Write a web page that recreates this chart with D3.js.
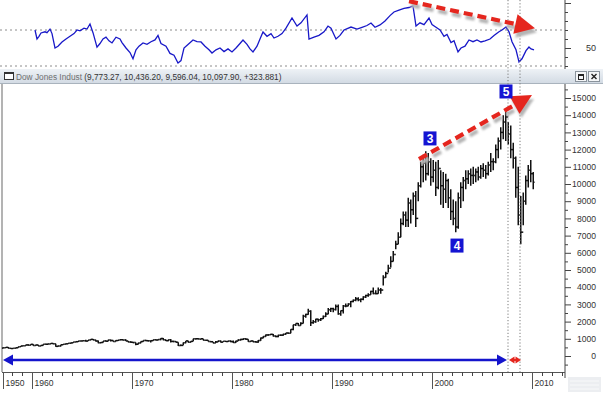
<!DOCTYPE html>
<html>
<head>
<meta charset="utf-8">
<script src="https://cdn.jsdelivr.net/npm/d3@7"></script>
<style>
  body { margin: 0; background: #fff; }
  svg { display: block; font-family: "Liberation Sans", Arial, sans-serif; }
</style>
</head>
<body>
<svg id="chart" width="603" height="393"></svg>
<script>
// quarterly bars, first one is 1957 Q1 (one row per year)
const startYear = 1957;
const highs = [
  500, 513, 521, 465,   450, 478, 532, 584,   603, 650, 679, 680,
  685, 656, 656, 616,   677, 705, 726, 735,   726, 706, 617, 653,
  685, 727, 745, 767,   820, 830, 875, 891,   910, 940, 932, 969,
  995, 950, 894, 820,   865, 910, 943, 943,   908, 920, 924, 985,
  952, 968, 873, 863,   811, 792, 773, 842,   904, 950, 920, 890,
  950, 971, 973, 1036,  1051, 963, 947, 987,  891, 869, 800, 674,
  786, 878, 881, 860,   1009, 1011, 1026, 980, 999, 936, 912, 856,
  817, 866, 907, 901,   862, 875, 893, 904,   903, 888, 967, 1000,
  1015, 1031, 976, 892, 882, 869, 934, 1070,  1145, 1248, 1260, 1287,
  1286, 1186, 1240, 1244, 1300, 1340, 1372, 1553, 1822, 1893, 1920, 1956,
  2405, 2450, 2746, 2662, 2100, 2160, 2160, 2210, 2350, 2550, 2790, 2810,
  2810, 3000, 3000, 2650, 2960, 3050, 3060, 3200, 3290, 3430, 3410, 3350,
  3480, 3560, 3650, 3800, 3980, 3820, 3980, 3960, 4700, 4900, 5300, 5800,
  6100, 6700, 7200, 8000, 8400, 8400, 9200, 9100, 9500, 9600, 10100, 11300,
  11700, 11900, 11800, 11500, 11400, 11300, 11400, 10800, 10700, 10600, 10300, 9700,
  9100, 9000, 9500, 10100, 10400, 10800, 10800, 10900, 11000, 10900, 11000, 11100,
  11200, 11100, 11300, 11800, 11500, 12300, 12700, 13300, 14000, 14400, 13600, 13400,
  12400, 11600, 11000, 9300, 9500, 10500, 11100, 11400, 10700
];
const lows = [
  454, 471, 456, 416,   436, 440, 476, 530,   575, 600, 616, 630,
  599, 600, 580, 566,   610, 675, 678, 700,   689, 535, 557, 558,
  646, 682, 695, 711,   766, 800, 820, 857,   869, 840, 868, 920,
  911, 847, 744, 744,   786, 848, 860, 850,   825, 840, 870, 925,
  899, 870, 801, 770,   744, 631, 669, 745,   830, 873, 839, 790,
  889, 910, 910, 921,   922, 869, 851, 788,   803, 795, 584, 577,
  632, 739, 784, 784,   858, 958, 970, 924,   919, 898, 839, 800,
  742, 750, 810, 792,   807, 821, 832, 796,   759, 759, 865, 908,
  931, 950, 824, 835,   795, 788, 776, 890,   1027, 1113, 1175, 1215,
  1134, 1086, 1086, 1160, 1184, 1240, 1300, 1320, 1502, 1738, 1758, 1774,
  1895, 2220, 2400, 1738, 1880, 1930, 1990, 2030, 2144, 2270, 2430, 2560,
  2540, 2640, 2400, 2340, 2470, 2830, 2890, 2830, 3130, 3180, 3190, 3130,
  3240, 3370, 3450, 3560, 3590, 3590, 3620, 3620, 4100, 4550, 4850, 5150,
  5500, 6200, 6500, 6900, 7600, 7500, 7500, 7700, 8200, 7500, 9000, 9800,
  10100, 10200, 10500, 9900, 10100, 9300, 9700, 8800, 8600, 8900, 8600, 7900,
  7600, 7200, 7400, 8600, 9000, 9700, 10000, 9900, 10000, 10100, 10200, 10300,
  10400, 10300, 10500, 10700, 10800, 11200, 11500, 12000, 12600, 12500, 12300, 11500,
  10900, 9200, 7600, 6500, 7600, 8800, 9800, 10100, 9700
];
const closes = [
  474, 503, 456, 435,   446, 478, 532, 584,   601, 643, 632, 679,
  616, 641, 580, 616,   676, 684, 701, 731,   706, 561, 579, 652,
  683, 707, 743, 763,   813, 831, 875, 874,   889, 868, 931, 969,
  924, 870, 774, 786,   865, 860, 927, 905,   840, 898, 935, 944,
  935, 873, 813, 800,   785, 683, 760, 839,   904, 891, 887, 890,
  940, 929, 953, 1020,  951, 891, 947, 851,   846, 802, 608, 616,
  768, 878, 793, 852,   999, 1002, 990, 1004, 919, 916, 847, 831,
  757, 818, 865, 805,   862, 841, 878, 839,   785, 867, 932, 964,
  1003, 976, 850, 875,  822, 811, 896, 1046,  1130, 1222, 1233, 1259,
  1165, 1133, 1207, 1212, 1267, 1336, 1329, 1547, 1819, 1893, 1768, 1896,
  2305, 2419, 2596, 1939, 1988, 2142, 2113, 2169, 2293, 2440, 2693, 2753,
  2707, 2881, 2453, 2634, 2914, 2907, 3017, 3169, 3236, 3319, 3272, 3301,
  3436, 3516, 3555, 3754, 3636, 3625, 3843, 3834, 4560, 4800, 5100, 5500,
  5900, 6500, 6900, 7700, 8200, 7900, 8900, 8500, 9300, 8000, 9900, 11000,
  11200, 10600, 11300, 10400, 10800, 9800, 10900, 9900, 9700, 10200, 9200, 8400,
  8000, 7500, 9200, 9800, 10200, 10300, 10600, 10500, 10500, 10700, 10400, 10900,
  10800, 10600, 11100, 11300, 11300, 12000, 12500, 13000, 13600, 13900, 12900, 12000,
  11500, 9800, 8200, 7200, 9000, 10200, 10800, 10600, 10100
];

// upper indicator pane
const rsiYears = [
  1960.3, 1960.5, 1960.7, 1960.9, 1961.3, 1961.5, 1961.8, 1962.0, 1962.3, 1962.6,
  1963.0, 1963.4, 1963.8, 1964.2, 1964.5, 1964.8, 1965.2, 1965.5, 1965.8, 1966.1,
  1966.5, 1966.8, 1967.1, 1967.4, 1967.7, 1968.0, 1968.4, 1968.8, 1969.0, 1969.4,
  1969.8, 1970.1, 1970.4, 1970.7, 1971.1, 1971.5, 1971.9, 1972.3, 1972.6, 1972.9,
  1973.4, 1973.8, 1974.2, 1974.6, 1974.9, 1975.2, 1975.6, 1976.1, 1976.5, 1976.9,
  1977.3, 1977.7, 1978.0, 1978.4, 1978.8, 1979.2, 1979.6, 1980.0, 1980.4, 1980.8,
  1981.1, 1981.5, 1981.8, 1982.1, 1982.5, 1982.8, 1983.1, 1983.5, 1983.9, 1984.2,
  1984.6, 1985.0, 1985.4, 1986.0, 1986.5, 1986.9, 1987.5, 1987.7, 1988.2, 1988.7,
  1989.2, 1989.6, 1989.9, 1990.4, 1990.8, 1991.2, 1991.9, 1992.5, 1993.0, 1993.5,
  1993.9, 1994.3, 1994.8, 1995.3, 1995.8, 1996.2, 1996.7, 1997.2, 1997.7, 1998.1,
  1998.4, 1998.8, 1999.2, 1999.7, 2000.0, 2000.4, 2000.8, 2001.2, 2001.5, 2001.9,
  2002.2, 2002.6, 2002.9, 2003.3, 2003.7, 2004.1, 2004.5, 2004.9, 2005.3, 2005.8,
  2006.2, 2006.7, 2007.0, 2007.4, 2007.7, 2008.0, 2008.4, 2008.7, 2009.0, 2009.4,
  2009.7, 2009.9, 2010.2
];
const rsiValues = [
  70, 60, 63, 66.7, 68, 67, 71, 66, 50, 52,
  56.7, 60, 63, 66, 70, 69, 72, 71, 76.7, 67,
  51, 55, 60, 62, 58, 55.6, 62, 60, 56, 50,
  45, 38, 48, 52, 55.6, 54, 57, 59, 64, 55,
  52, 44, 42, 33.3, 36, 50, 54, 58.9, 57, 56.7,
  52, 48, 44.4, 48, 50, 46, 49, 45.6, 50, 55,
  58.9, 54, 49, 45.6, 52, 60, 67.8, 63, 66, 61.1,
  63, 66, 72, 83.3, 74.4, 78, 86.7, 60, 62, 64,
  68, 74.4, 72, 60, 64, 70, 73.3, 71, 73, 75,
  77.8, 73, 75.6, 80, 86, 90, 92, 94, 95, 96.7,
  74.4, 78, 76, 83.3, 76, 73, 70, 63, 65, 56,
  58, 45.6, 50, 52, 58.9, 57, 59, 56.7, 58, 60,
  64, 68, 70, 73.3, 68, 57, 48, 34.4, 38, 47,
  51.1, 49, 47.8
];

const rsiGrid = [30, 70];
const rsiLabels = [50];
const priceLabels = d3.range(0, 15001, 1000);
const yearTicks = [1957, 1960, 1970, 1980, 1990, 2000, 2010];
const yearLabels = ["1950", "1960", "1970", "1980", "1990", "2000", "2010"];
const markerYears = [2007.6, 2008.8];
const seriesName = "Dow Jones Indust";
const lastBar = [9773.27, 10436.20, 9596.04, 10097.90, 323.881];

const svg = d3.select("#chart");
const W = 603, axisX = 565, plotBottom = 372;

const x = d3.scaleLinear().domain([1960, 2010]).range([32, 532]);
const yRsi = d3.scaleLinear().domain([30, 70]).range([66, 30]);
const yPx = d3.scaleLinear().domain([0, 15000]).range([356, 98]);

const defs = svg.append("defs");
const grad = defs.append("linearGradient").attr("id", "hdr").attr("x1", 0).attr("y1", 0).attr("x2", 0).attr("y2", 1);
grad.append("stop").attr("offset", "0%").attr("stop-color", "#eef2f6");
grad.append("stop").attr("offset", "100%").attr("stop-color", "#d3dbe4");
defs.append("filter").attr("id", "soft")
  .append("feGaussianBlur").attr("stdDeviation", 0.9);

// ---- upper pane ----
const upper = svg.append("g");
rsiGrid.forEach(v => {
  upper.append("line")
    .attr("x1", 0).attr("x2", axisX)
    .attr("y1", yRsi(v)).attr("y2", yRsi(v))
    .attr("stroke", "#8c8c8c").attr("stroke-dasharray", "2,3");
});

upper.append("path")
  .datum(d3.zip(rsiYears, rsiValues))
  .attr("fill", "none")
  .attr("stroke", "#1818c8")
  .attr("stroke-width", 1.3)
  .attr("d", d3.line().x(d => x(d[0])).y(d => yRsi(d[1])));

const rsiAxis = upper.append("g")
  .attr("transform", `translate(${axisX},0)`)
  .call(d3.axisRight(yRsi).tickValues(d3.range(30, 101, 10)).tickSize(3)
    .tickFormat(d => rsiLabels.includes(d) ? d : ""));
rsiAxis.select(".domain").remove();
rsiAxis.selectAll(".tick line").attr("stroke", "#444")
  .filter(d => d % 50 === 0).attr("x2", 6);
rsiAxis.selectAll(".tick text").attr("x", 31).attr("text-anchor", "end")
  .attr("fill", "#333").style("font-size", "9px").style("font-family", "inherit");
upper.append("line").attr("x1", axisX).attr("x2", axisX).attr("y1", 0).attr("y2", 69)
  .attr("stroke", "#444");

// ---- header bar ----
svg.append("rect").attr("x", 0).attr("y", 69).attr("width", W).attr("height", 14)
  .attr("fill", "url(#hdr)");
svg.append("line").attr("x1", 0).attr("x2", W).attr("y1", 83.5).attr("y2", 83.5)
  .attr("stroke", "#a9b3bd");
svg.append("rect").attr("x", 4.5).attr("y", 72.5).attr("width", 9).attr("height", 7)
  .attr("fill", "#fff").attr("stroke", "#333");
svg.append("line").attr("x1", 4.5).attr("x2", 13.5).attr("y1", 73.5).attr("y2", 73.5)
  .attr("stroke", "#333");
const fmt = d3.format(",.2f");
const hdrText = svg.append("text").attr("x", 16).attr("y", 79.5).style("font-size", "8.3px");
hdrText.append("tspan").attr("fill", "#6f6f6f").text(seriesName + " ");
hdrText.append("tspan").attr("fill", "#333")
  .text(`(${lastBar.slice(0, 4).map(fmt).join(", ")}, +${lastBar[4]})`);

// window buttons
[575, 588].forEach((bx, i) => {
  svg.append("rect").attr("x", bx + 0.5).attr("y", 71.5).attr("width", 11).attr("height", 10)
    .attr("fill", "#f4f6f8").attr("stroke", "#8a939c");
  if (i === 0) {
    svg.append("rect").attr("x", bx + 3.5).attr("y", 74.5).attr("width", 5).attr("height", 5)
      .attr("fill", "none").attr("stroke", "#222");
    svg.append("line").attr("x1", bx + 3.5).attr("x2", bx + 8.5).attr("y1", 75.5).attr("y2", 75.5)
      .attr("stroke", "#222");
  } else {
    svg.append("path").attr("d", `M${bx + 3.5},${74} L${bx + 8.5},${79} M${bx + 8.5},${74} L${bx + 3.5},${79}`)
      .attr("stroke", "#222").attr("stroke-width", 1.4);
  }
});

// ---- main pane ----
const main = svg.append("g");
main.append("line").attr("x1", 2).attr("x2", 2).attr("y1", 84).attr("y2", plotBottom)
  .attr("stroke", "#9a9a9a").attr("stroke-width", 1.5);

// price bars
const bars = highs.map((h, i) => ({
  t: startYear + i / 4 + 0.125,
  high: h,
  low: lows[i],
  open: i === 0 ? 460 : closes[i - 1],
  close: closes[i]
}));
const barG = main.append("g").attr("stroke", "#111").attr("stroke-width", 1.5);
barG.selectAll("line.hl").data(bars).join("line").attr("class", "hl")
  .attr("x1", d => x(d.t)).attr("x2", d => x(d.t))
  .attr("y1", d => yPx(d.high)).attr("y2", d => yPx(d.low));
barG.selectAll("line.op").data(bars).join("line").attr("class", "op")
  .attr("x1", d => x(d.t) - 1.3).attr("x2", d => x(d.t))
  .attr("y1", d => yPx(d.open)).attr("y2", d => yPx(d.open));
barG.selectAll("line.cl").data(bars).join("line").attr("class", "cl")
  .attr("x1", d => x(d.t)).attr("x2", d => x(d.t) + 1.3)
  .attr("y1", d => yPx(d.close)).attr("y2", d => yPx(d.close));

// price axis
const pAxis = main.append("g")
  .attr("transform", `translate(${axisX},0)`)
  .call(d3.axisRight(yPx).tickValues(d3.range(-500, 15501, 500)).tickSize(3)
    .tickFormat(d => priceLabels.includes(d) ? d : ""));
pAxis.select(".domain").remove();
pAxis.selectAll(".tick line").attr("stroke", "#444")
  .filter(d => d % 1000 === 0).attr("x2", 6);
pAxis.selectAll(".tick text").attr("x", 31).attr("text-anchor", "end")
  .attr("fill", "#333").style("font-size", "8.6px").style("font-family", "inherit");
main.append("line").attr("x1", axisX).attr("x2", axisX).attr("y1", 84).attr("y2", plotBottom + 6)
  .attr("stroke", "#444");

// time axis
main.append("line").attr("x1", 2).attr("x2", axisX).attr("y1", plotBottom + 0.5).attr("y2", plotBottom + 0.5)
  .attr("stroke", "#555");
main.selectAll("line.minor").data(d3.range(1958, 2014)).join("line").attr("class", "minor")
  .attr("x1", d => x(d) + 0.5).attr("x2", d => x(d) + 0.5)
  .attr("y1", plotBottom).attr("y2", plotBottom + 4).attr("stroke", "#444");
const yt = main.selectAll("g.yt").data(yearTicks).join("g").attr("class", "yt")
  .attr("transform", (d, i) => `translate(${(i === 0 ? x(d) + 1 : x(d)) + 0.5},${plotBottom})`);
yt.append("line").attr("y1", 0).attr("y2", 17).attr("stroke", "#555");
yt.append("text").attr("x", 2).attr("y", 14).attr("fill", "#333").style("font-size", "8.6px")
  .text((d, i) => yearLabels[i]);

// scrollbar stub
svg.append("rect").attr("x", 568).attr("y", 377).attr("width", 33).attr("height", 15)
  .attr("fill", "#eceef1");
[381, 385, 389].forEach(yy => svg.append("line").attr("x1", 570).attr("x2", 599)
  .attr("y1", yy).attr("y2", yy).attr("stroke", "#f8f9fa"));

// event markers
markerYears.forEach(t => {
  svg.append("line").attr("x1", x(t)).attr("x2", x(t)).attr("y1", 0).attr("y2", plotBottom)
    .attr("stroke", "#7a7a7a").attr("stroke-dasharray", "1.2,2");
});

// ---- annotations ----
function dashedArrow(x1, y1, x2, y2) {
  const len = Math.hypot(x2 - x1, y2 - y1);
  const ux = (x2 - x1) / len, uy = (y2 - y1) / len;
  const hl = 20, hw = 10;
  const bx = x2 - ux * hl, by = y2 - uy * hl;
  const head = [[x2, y2], [bx - uy * hw, by + ux * hw], [bx + uy * hw, by - ux * hw]];
  [["#b4b4b4", 2, 4, "url(#soft)"], ["#e5261e", 0, 0, null]].forEach(([c, dx, dy, f]) => {
    const g = svg.append("g").attr("transform", `translate(${dx},${dy})`);
    if (f) g.attr("filter", f);
    g.append("line").attr("x1", x1).attr("y1", y1).attr("x2", bx + ux * 2).attr("y2", by + uy * 2)
      .attr("stroke", c).attr("stroke-width", 4.2).attr("stroke-dasharray", "9,5");
    g.append("polygon").attr("points", head.map(p => p.join(",")).join(" ")).attr("fill", c);
  });
}
dashedArrow(x(1997.7), yRsi(102), x(2010.3), yRsi(72));
dashedArrow(x(1998.7), yPx(11450), x(2010.0), yPx(15170));

function waveLabel(txt, t, v) {
  const cx = x(t), cy = yPx(v);
  svg.append("rect").attr("x", cx - 6.5).attr("y", cy - 7).attr("width", 13).attr("height", 14)
    .attr("fill", "#1414d2");
  svg.append("text").attr("x", cx).attr("y", cy + 4.5).attr("text-anchor", "middle")
    .attr("fill", "#fff").style("font-size", "12px").style("font-weight", "bold").text(txt);
}
waveLabel("3", 1999.8, 12650);
waveLabel("5", 2007.4, 15380);
waveLabel("4", 2002.5, 6420);

function doubleArrow(t1, t2, v, color, hl, hw, sw) {
  const x1 = x(t1), x2 = x(t2), yy = yPx(v);
  svg.append("line").attr("x1", x1 + hl - 1).attr("x2", x2 - hl + 1).attr("y1", yy).attr("y2", yy)
    .attr("stroke", color).attr("stroke-width", sw);
  svg.append("polygon").attr("points", `${x1},${yy} ${x1 + hl},${yy - hw} ${x1 + hl},${yy + hw}`).attr("fill", color);
  svg.append("polygon").attr("points", `${x2},${yy} ${x2 - hl},${yy - hw} ${x2 - hl},${yy + hw}`).attr("fill", color);
}
doubleArrow(1957.1, 2007.5, -230, "#1414cc", 10, 5.5, 2.6);
doubleArrow(2007.7, 2008.9, -230, "#e5261e", 5.5, 3.5, 2.2);
</script>
</body>
</html>
